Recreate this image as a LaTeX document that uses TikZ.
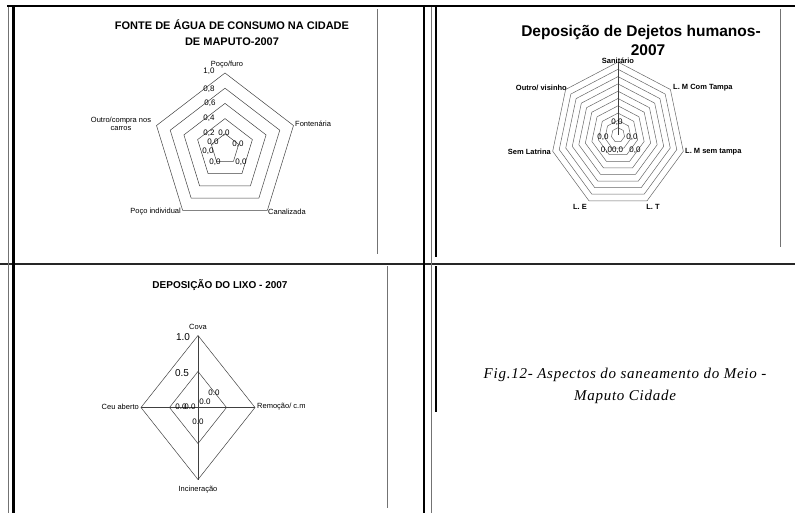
\documentclass[tikz,border=0pt]{standalone}
\usepackage{fontspec}
\setmainfont{Liberation Sans}
\newfontfamily\capfont[LetterSpace=5]{Liberation Serif}
\begin{document}
\begin{tikzpicture}[x=1pt,y=-1pt,
    ring/.style={draw=black!75,line width=0.5pt},
    frame/.style={line width=2.2pt},
    fine/.style={draw=black!55,line width=0.9pt},
    lab/.style={inner sep=0pt,font=\fontsize{7.5}{8}\selectfont},
    blab/.style={inner sep=0pt,font=\bfseries\fontsize{7.5}{8}\selectfont},
    val/.style={inner sep=0pt,font=\fontsize{8}{8}\selectfont}]
  \useasboundingbox (0,0) rectangle (795,513);

  % table frame
  \coordinate (tl) at (7,6);
  \coordinate (tr) at (795,6);
  \draw[frame] (tl) -- (tr);
  \draw[frame,line width=2.6pt,black!85] (0,264) -- (795,264);
  \draw[fine] (8,7) -- (8,513);
  \draw[frame] (13.5,7) -- (13.5,513);
  \draw[frame] (424,7) -- (424,513);
  \draw[fine] (431,7) -- (431,513);
  \draw[frame] (436,7) -- (436,257);
  \draw[frame] (436,266) -- (436,412);
  \draw[fine] (377,9) -- (377,254);
  \draw[fine] (387,266) -- (387,508);
  \draw[fine] (780,9) -- (780,247);

  % water sources
  \node[font=\bfseries\fontsize{11}{13}\selectfont] (agua1) at (232,25) {FONTE DE ÁGUA DE CONSUMO NA CIDADE};
  \node[font=\bfseries\fontsize{11}{13}\selectfont] (agua2) at (232,42) {DE MAPUTO-2007};
  \begin{scope}[shift={(225,149)},x=72pt,y=76pt]
    \foreach \v in {0.2,0.4,0.6,0.8,1.0}
      \draw[ring] (90:\v) -- (18:\v) -- (-54:\v) -- (-126:\v) -- (162:\v) -- cycle;
  \end{scope}
  \node[lab] (poco) at (227,65) {Poço/furo};
  \node[lab,anchor=west] (fonte) at (295,124) {Fontenária};
  \node[lab,anchor=west] (canal) at (268,212) {Canalizada};
  \node[lab,anchor=east] (indiv) at (181,212) {Poço individual};
  \node[lab,align=center] (outro) at (121,123.5) {Outro/compra nos\\carros};
  \node[val] (a10) at (209,71) {1,0};
  \node[val] (a08) at (209,89) {0,8};
  \node[val] (a06) at (210,103) {0,6};
  \node[val] (a04) at (209,118) {0,4};
  \node[val] (a02) at (209,133) {0,2};
  \node[val] (a00) at (208,151) {0,0};
  \node[val] (d1) at (224,133) {0,0};
  \node[val] (d2) at (213,142) {0,0};
  \node[val] (d3) at (238,144) {0,0};
  \node[val] (d4) at (215,162) {0,0};
  \node[val] (d5) at (241,162) {0,0};

  % human waste
  \node[font=\bfseries\fontsize{15.5}{17}\selectfont] (dej1) at (641,32) {Deposição de Dejetos humanos-};
  \node[font=\bfseries\fontsize{15.5}{17}\selectfont] (dej2) at (648,50) {2007};
  \begin{scope}[shift={(618,135)},x=67pt,y=73pt]
    \foreach \v in {0.1,0.2,0.3,0.4,0.5,0.6,0.7,0.8,0.9,1.0}
      \draw[ring,black!60] (90:\v) \foreach \k in {1,...,6} {-- ({90-360/7*\k}:\v)} -- cycle;
    \draw[ring] (0,0) -- (90:1);
  \end{scope}
  \node[blab] (sanit) at (618,61) {Sanitário};
  \node[blab,anchor=west] (comt) at (673,88) {L. M Com Tampa};
  \node[blab,anchor=west] (semt) at (685,152) {L. M sem tampa};
  \node[blab] (lt) at (653,207) {L. T};
  \node[blab] (le) at (580,207) {L. E};
  \node[blab,anchor=east] (seml) at (551,152) {Sem Latrina};
  \node[blab,anchor=east] (viz) at (567,88) {Outro/ visinho};
  \node[val] (e1) at (617,122) {0,0};
  \node[val] (e2) at (603,137) {0,0};
  \node[val] (e3) at (632,137) {0,0};
  \node[val] (e4) at (612,150) {0,00,0};
  \node[val] (e5) at (635,150) {0,0};

  % refuse
  \node[font=\bfseries\fontsize{10}{12}\selectfont] (lixo) at (220,285) {DEPOSIÇÃO DO LIXO - 2007};
  \begin{scope}[shift={(198,407.5)},x=57pt,y=72pt]
    \foreach \v in {0.5,1.0}
      \draw[ring] (90:\v) -- (0:\v) -- (-90:\v) -- (180:\v) -- cycle;
    \draw[ring] (90:1) -- (-90:1);
    \draw[ring] (180:1) -- (0:1);
  \end{scope}
  \node[lab] (cova) at (198,327) {Cova};
  \node[lab,anchor=east] (ceu) at (139,407) {Ceu aberto};
  \node[lab,anchor=west] (remo) at (257,407) {Remoção/ c.m};
  \node[lab] (inci) at (198,490) {Incineração};
  \node[inner sep=0pt,font=\fontsize{10}{10}\selectfont] (b10) at (183,337) {1.0};
  \node[inner sep=0pt,font=\fontsize{10}{10}\selectfont] (b05) at (182,373) {0.5};
  \node[val] (f1) at (181,407) {0.0};
  \node[val] (f2) at (190,407) {0.0};
  \node[val] (f3) at (198,422) {0.0};
  \node[val] (f4) at (205,402) {0.0};
  \node[val] (f5) at (214,393) {0.0};

  % caption
  \node[font=\capfont\itshape\fontsize{15}{22}\selectfont,align=center] (cap) at (625,386)
    {Fig.12- Aspectos do saneamento do Meio -\\Maputo Cidade};
\end{tikzpicture}
\end{document}
